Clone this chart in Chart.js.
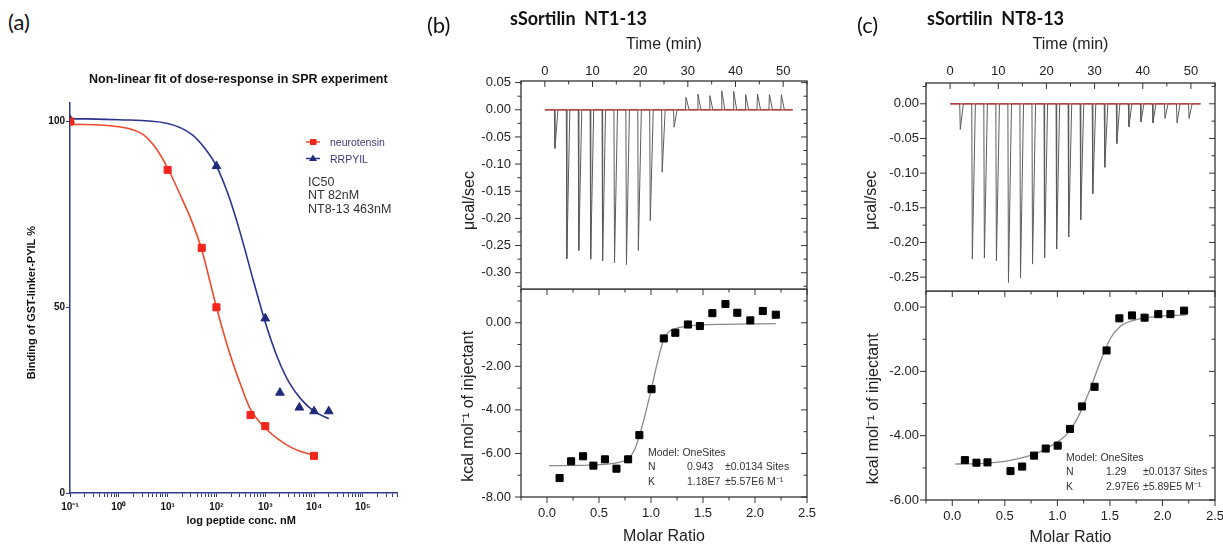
<!DOCTYPE html>
<html>
<head>
<meta charset="utf-8">
<script src="https://cdn.jsdelivr.net/npm/chart.js@4.4.1/dist/chart.umd.min.js"></script>
<style>
html,body{margin:0;padding:0;background:#fff;}
body{width:1223px;height:547px;position:relative;overflow:hidden;font-family:'Liberation Sans',Arial,sans-serif;}
canvas{position:absolute;}
.t{position:absolute;white-space:nowrap;line-height:1;transform:translateY(-50%);color:#222;}
.lbl{font-family:Lato,'Open Sans',sans-serif;font-size:22px;color:#111;}
.ttl{font-family:Lato,'Open Sans',sans-serif;font-weight:bold;font-size:18px;color:#111;}
.ann{font-size:10.5px;color:#333;}
.leg{font-size:10.5px;color:#3b3b78;}
.ic{font-size:12.5px;color:#333;}
</style>
</head>
<body>
<canvas id="ca" width="410" height="487" style="left:0px;top:60px"></canvas>
<canvas id="cbt" width="385" height="260" style="left:440px;top:30px"></canvas>
<canvas id="cbb" width="385" height="258" style="left:440px;top:289px"></canvas>
<canvas id="cct" width="363" height="262" style="left:860px;top:30px"></canvas>
<canvas id="ccb" width="363" height="256" style="left:860px;top:291px"></canvas>

<!-- panel (a) texts -->
<div class="t lbl" style="left:8px;top:22px">(a)</div>
<div class="t" style="left:89px;top:79px;font-size:12.5px;font-weight:bold;color:#111">Non-linear fit of dose-response in SPR experiment</div>
<div class="t leg" style="left:330px;top:142px">neurotensin</div>
<div class="t leg" style="left:330px;top:158.5px">RRPYIL</div>
<div class="t ic" style="left:308px;top:181.5px">IC50</div>
<div class="t ic" style="left:308px;top:195px">NT 82nM</div>
<div class="t ic" style="left:308px;top:209px">NT8-13 463nM</div>

<!-- panel (b) texts -->
<div class="t lbl" style="left:427px;top:25px">(b)</div>
<div class="t ttl" style="left:510px;top:18px">sSortilin&nbsp;&nbsp;NT1-13</div>
<div class="t ann" style="left:648px;top:452px">Model: OneSites</div>
<div class="t ann" style="left:648px;top:466px">N</div>
<div class="t ann" style="left:687px;top:466px">0.943</div>
<div class="t ann" style="left:725px;top:466px">±0.0134 Sites</div>
<div class="t ann" style="left:648px;top:481px">K</div>
<div class="t ann" style="left:687px;top:481px">1.18E7</div>
<div class="t ann" style="left:725px;top:481px">±5.57E6 M⁻¹</div>

<!-- panel (c) texts -->
<div class="t lbl" style="left:857px;top:25px">(c)</div>
<div class="t ttl" style="left:927px;top:18px">sSortilin&nbsp;&nbsp;NT8-13</div>
<div class="t ann" style="left:1066px;top:457px">Model: OneSites</div>
<div class="t ann" style="left:1066px;top:471px">N</div>
<div class="t ann" style="left:1106px;top:471px">1.29</div>
<div class="t ann" style="left:1143px;top:471px">±0.0137 Sites</div>
<div class="t ann" style="left:1066px;top:485.5px">K</div>
<div class="t ann" style="left:1106px;top:485.5px">2.97E6</div>
<div class="t ann" style="left:1143px;top:485.5px">±5.89E5 M⁻¹</div>

<script>
// ---------------- DATA ----------------
// Panel (a): SPR dose-response
const ntConc = [0.1, 10, 50, 100, 500, 1000, 10000];
const ntBinding = [100, 87, 66, 50, 21, 18, 10];
const rrConc = [0.1, 100, 1000, 2000, 5000, 10000, 20000];
const rrBinding = [100.5, 88, 47, 27, 23, 22, 22];
const ntFitConc = [0.1, 1, 3.16, 5.62, 10, 17.8, 31.6, 50, 100, 178, 316, 500, 1000, 3162, 10000];
const ntFitBinding = [99.3, 98.6, 96.5, 93, 87.5, 80.5, 73, 65.5, 50, 38.5, 29, 22.5, 17.5, 12.5, 10];
const rrFitConc = [0.1, 1, 10, 31.6, 56.2, 100, 178, 316, 562, 1000, 1778, 3162, 5623, 10000, 20000];
const rrFitBinding = [100.8, 100.5, 99.5, 96.5, 93, 88, 80, 69.5, 57.5, 46, 36.5, 29.5, 25, 22, 20];
const logTickLabels = ['10⁻¹', '10⁰', '10¹', '10²', '10³', '10⁴', '10⁵'];
const bindingTicks = [0, 50, 100];

// Panel (b) / (c): ITC raw thermograms
const injectionTimes = [2, 4.5, 7, 9.5, 12, 14.5, 17, 19.5, 22, 24.5, 27, 29.5, 32, 34.5, 37, 39.5, 42, 44.5, 47, 49.5];
const heatRateB = [-0.071, -0.274, -0.259, -0.275, -0.278, -0.282, -0.285, -0.259, -0.204, -0.115, -0.032,
                   0.023, 0.029, 0.026, 0.035, 0.034, 0.028, 0.029, 0.028, 0.028];
const heatRateC = [-0.037, -0.224, -0.2225, -0.2264, -0.2577, -0.2514, -0.2312, -0.2225, -0.2095, -0.1922, -0.1671,
                   -0.1296, -0.0915, -0.0573, -0.0332, -0.026, -0.0275, -0.0212, -0.0275, -0.0212];
const traceSpan = [0, 52];
const baselineTime = [0, 52];
const baselineRate = [0, 0];

// Panel (b) integrated heats
const molarRatioB = [0.121, 0.232, 0.347, 0.446, 0.557, 0.668, 0.78, 0.888, 1.005, 1.123, 1.234, 1.355, 1.47, 1.59, 1.716, 1.83, 1.955, 2.075, 2.2];
const heatB = [-7.13, -6.36, -6.13, -6.56, -6.27, -6.70, -6.27, -5.16, -3.05, -0.72, -0.46, -0.08, -0.15, 0.44, 0.86, 0.46, 0.11, 0.54, 0.37];
const fitRatioB = [0.02, 0.4, 0.6, 0.7, 0.78, 0.84, 0.89, 0.95, 1.005, 1.06, 1.12, 1.17, 1.25, 1.4, 1.7, 2.2];
const fitHeatB = [-6.56, -6.54, -6.48, -6.4, -6.25, -5.85, -5.16, -4.1, -3.0, -1.85, -0.8, -0.42, -0.25, -0.13, -0.07, -0.04];

// Panel (c) integrated heats
const molarRatioC = [0.12, 0.23, 0.335, 0.554, 0.665, 0.778, 0.889, 1.003, 1.12, 1.234, 1.354, 1.468, 1.59, 1.71, 1.83, 1.96, 2.076, 2.206];
const heatC = [-4.76, -4.84, -4.83, -5.10, -4.96, -4.62, -4.40, -4.31, -3.79, -3.09, -2.48, -1.35, -0.35, -0.26, -0.33, -0.22, -0.22, -0.11];
const fitRatioC = [0.03, 0.3, 0.5, 0.65, 0.8, 0.95, 1.1, 1.2, 1.3, 1.4, 1.5, 1.6, 1.72, 1.9, 2.22];
const fitHeatC = [-4.88, -4.86, -4.8, -4.7, -4.55, -4.3, -3.92, -3.4, -2.65, -1.78, -1.0, -0.6, -0.42, -0.31, -0.24];

// ---------------- HELPERS ----------------
Chart.defaults.font.family = "'Liberation Sans', Arial, sans-serif";
const RED = '#f2261c', RED_LINE = '#f04a2c', NAVY = '#1f2a7c', NAVY_LINE = '#2b348f', AXIS = '#2e3a8c';
const zip = (xs, ys) => xs.map((x, i) => ({x: x, y: ys[i]}));
const isMult = (v, s) => Math.abs(v / s - Math.round(v / s)) < 1e-6;
const SPIKE_RISE = 0.12, SPIKE_WIDTH = 0.75;
function buildTrace(times, peaks, span) {
  const pts = [{x: span[0], y: 0}];
  times.forEach((t, i) => { pts.push({x: t, y: 0}, {x: t + SPIKE_RISE, y: peaks[i]}, {x: t + SPIKE_WIDTH, y: 0}); });
  pts.push({x: span[1], y: 0});
  return pts;
}
const logTickValues = [];
for (let e = -1; e <= 5; e++) for (let k = 1; k <= 9; k++) { const v = k * Math.pow(10, e); if (v <= 5e5) logTickValues.push(v); }

function baseOpts(pad) {
  return {responsive: false, animation: false, events: [], layout: {padding: pad, autoPadding: false},
    plugins: {legend: {display: false}, tooltip: {enabled: false}}};
}

// frame + Origin-style ticks
const frameTicks = {
  id: 'frameTicks',
  afterDraw(chart, args, opts) {
    const ctx = chart.ctx, a = chart.chartArea;
    ctx.save();
    ctx.strokeStyle = '#333'; ctx.lineWidth = 1.3;
    ctx.strokeRect(a.left, a.top, a.right - a.left, a.bottom - a.top);
    ctx.lineWidth = 1;
    (opts.sides || []).forEach(sd => {
      const s = chart.scales[sd.scale];
      s.ticks.forEach(t => {
        const p = s.getPixelForValue(t.value);
        const len = (t.label !== '' ? 6 : 3.5) * sd.dir;
        ctx.beginPath();
        if (sd.edge === 'top') { ctx.moveTo(p, a.top); ctx.lineTo(p, a.top + len); }
        else if (sd.edge === 'bottom') { ctx.moveTo(p, a.bottom); ctx.lineTo(p, a.bottom - len); }
        else if (sd.edge === 'left') { ctx.moveTo(a.left, p); ctx.lineTo(a.left + len, p); }
        else { ctx.moveTo(a.right, p); ctx.lineTo(a.right - len, p); }
        ctx.stroke();
      });
    });
    ctx.restore();
  }
};

// legend markers for panel (a)
const aLegend = {
  id: 'aLegend',
  afterDraw(chart) {
    const ctx = chart.ctx;
    const items = [{y: 82, fill: RED, line: RED_LINE, style: 'rect'}, {y: 98.5, fill: NAVY, line: NAVY_LINE, style: 'tri'}];
    items.forEach(it => {
      ctx.save();
      ctx.strokeStyle = it.line; ctx.lineWidth = 1.5;
      ctx.beginPath(); ctx.moveTo(306, it.y); ctx.lineTo(320, it.y); ctx.stroke();
      ctx.fillStyle = it.fill;
      ctx.beginPath();
      if (it.style === 'rect') ctx.rect(310, it.y - 3, 6.5, 6);
      else { ctx.moveTo(313, it.y - 4); ctx.lineTo(317, it.y + 2.5); ctx.lineTo(309, it.y + 2.5); ctx.closePath(); }
      ctx.fill();
      ctx.restore();
    });
  }
};

function itcScale(o) {
  const horiz = (o.pos === 'top' || o.pos === 'bottom');
  return {
    type: 'linear', position: o.pos, min: o.min, max: o.max,
    afterBuildTicks(s) {
      const t = [];
      const k0 = Math.ceil(o.min / o.step - 1e-9), k1 = Math.floor(o.max / o.step + 1e-9);
      for (let k = k0; k <= k1; k++) t.push({value: Math.round(k * o.step * 1e6) / 1e6});
      s.ticks = t;
    },
    afterFit(s) {
      if (horiz) s.height = o.size; else s.width = o.size;
      s.paddingTop = 0; s.paddingBottom = 0; s.paddingLeft = 0; s.paddingRight = 0;
    },
    grid: {display: false, drawTicks: false}, border: {display: false},
    ticks: {autoSkip: false, maxRotation: 0, minRotation: 0,
      padding: o.pad, color: '#222', font: {size: 13},
      callback: (v) => isMult(v, o.major) ? Number(v).toFixed(o.dec) : ''},
    title: {display: true, text: o.title, color: '#222', font: {size: 16}, padding: o.tpad}
  };
}

// ---------------- PANEL (a) ----------------
new Chart(document.getElementById('ca'), {
  type: 'scatter',
  data: {datasets: [
    {data: zip(ntConc, ntBinding), pointStyle: 'rect', pointRadius: 5, backgroundColor: RED, borderColor: RED, borderWidth: 1, order: 0},
    {data: zip(rrConc, rrBinding), pointStyle: 'triangle', pointRadius: 5, backgroundColor: NAVY, borderColor: NAVY, borderWidth: 1, order: 0},
    {data: zip(ntFitConc, ntFitBinding), showLine: true, pointRadius: 0, borderColor: RED_LINE, borderWidth: 1.6, cubicInterpolationMode: 'monotone', order: 1},
    {data: zip(rrFitConc, rrFitBinding), showLine: true, pointRadius: 0, borderColor: NAVY_LINE, borderWidth: 1.6, cubicInterpolationMode: 'monotone', order: 1}
  ]},
  options: Object.assign(baseOpts({left: 0, top: 43, right: 13, bottom: 0}), {
    scales: {
      x: {type: 'logarithmic', min: 0.1, max: 5e5,
        afterFit(s) { s.height = 54; },
        afterBuildTicks(s) { s.ticks = logTickValues.map(v => ({value: v})); },
        ticks: {autoSkip: false, maxRotation: 0, minRotation: 0, padding: 4, color: '#111', font: {size: 10, weight: 'bold'},
          callback: (v) => { const e = Math.log10(v); return Math.abs(e - Math.round(e)) < 1e-9 ? logTickLabels[Math.round(e) + 1] : ''; }},
        grid: {display: true, drawOnChartArea: false, drawTicks: true, tickLength: 4, color: AXIS},
        border: {display: true, color: AXIS, width: 1.5},
        title: {display: true, text: '\u00a0\u00a0\u00a0\u00a0\u00a0log peptide conc. nM', color: '#111', font: {size: 11, weight: 'bold'}, padding: {top: 0, bottom: 19.4}}},
      y: {type: 'linear', min: 0, max: 105,
        afterFit(s) { s.width = 70; },
        afterBuildTicks(s) { s.ticks = bindingTicks.map(v => ({value: v})); },
        ticks: {padding: 1, color: '#111', font: {size: 10, weight: 'bold'}},
        grid: {display: true, drawOnChartArea: false, drawTicks: true, tickLength: 4, color: AXIS},
        border: {display: true, color: AXIS, width: 1.5},
        title: {display: true, text: 'Binding of GST-linker-PYIL %\u00a0\u00a0\u00a0', color: '#111', font: {size: 11, weight: 'bold'}, padding: {top: 25.4, bottom: 0}}}
    }
  }),
  plugins: [aLegend]
});

// ---------------- PANEL (b) top ----------------
new Chart(document.getElementById('cbt'), {
  type: 'scatter',
  data: {datasets: [
    {data: zip(baselineTime, baselineRate), showLine: true, pointRadius: 0, borderColor: '#b8302f', borderWidth: 1.2, order: 0},
    {data: buildTrace(injectionTimes, heatRateB, traceSpan), showLine: true, pointRadius: 0, borderColor: '#5c5c5c', borderWidth: 1, tension: 0, order: 1}
  ]},
  options: Object.assign(baseOpts({left: 0, top: 0, right: 18, bottom: 1}), {
    scales: {
      x: itcScale({pos: 'top', min: -5, max: 55, size: 51, step: 5, major: 10, dec: 0, pad: 2, title: 'Time (min)', tpad: {top: 5.4, bottom: 0}}),
      y: itcScale({pos: 'left', min: -0.33, max: 0.053, size: 81, step: 0.025, major: 0.05, dec: 2, pad: 10,
        title: 'μcal/sec\u00a0\u00a0\u00a0\u00a0\u00a0\u00a0\u00a0', tpad: {top: 20.4, bottom: 0}})
    },
    plugins: {legend: {display: false}, tooltip: {enabled: false},
      frameTicks: {sides: [{scale: 'x', edge: 'top', dir: 1}, {scale: 'y', edge: 'left', dir: -1}, {scale: 'y', edge: 'right', dir: 1}]}}
  }),
  plugins: [frameTicks]
});

// ---------------- PANEL (b) bottom ----------------
new Chart(document.getElementById('cbb'), {
  type: 'scatter',
  data: {datasets: [
    {data: zip(molarRatioB, heatB), pointStyle: 'rect', pointRadius: 5, backgroundColor: '#000', borderColor: '#000', borderWidth: 1, order: 0},
    {data: zip(fitRatioB, fitHeatB), showLine: true, pointRadius: 0, borderColor: '#8a8a8a', borderWidth: 1.3, cubicInterpolationMode: 'monotone', order: 1}
  ]},
  options: Object.assign(baseOpts({left: 0, top: 0, right: 18, bottom: 0}), {
    scales: {
      x: itcScale({pos: 'bottom', min: -0.25, max: 2.5, size: 50, step: 0.25, major: 0.5, dec: 1, pad: 9, title: 'Molar Ratio', tpad: {top: 0, bottom: 0.4}}),
      y: itcScale({pos: 'left', min: -8, max: 1.55, size: 81, step: 1, major: 2, dec: 2, pad: 10,
        title: 'kcal mol⁻¹ of injectant\u00a0\u00a0\u00a0\u00a0\u00a0\u00a0', tpad: {top: 18.9, bottom: 0}})
    },
    plugins: {legend: {display: false}, tooltip: {enabled: false},
      frameTicks: {sides: [{scale: 'x', edge: 'top', dir: 1}, {scale: 'x', edge: 'bottom', dir: -1}, {scale: 'y', edge: 'left', dir: -1}, {scale: 'y', edge: 'right', dir: 1}]}}
  }),
  plugins: [frameTicks]
});

// ---------------- PANEL (c) top ----------------
new Chart(document.getElementById('cct'), {
  type: 'scatter',
  data: {datasets: [
    {data: zip(baselineTime, baselineRate), showLine: true, pointRadius: 0, borderColor: '#b8302f', borderWidth: 1.2, order: 0},
    {data: buildTrace(injectionTimes, heatRateC, traceSpan), showLine: true, pointRadius: 0, borderColor: '#5c5c5c', borderWidth: 1, tension: 0, order: 1}
  ]},
  options: Object.assign(baseOpts({left: 0, top: 0, right: 8, bottom: 1}), {
    scales: {
      x: itcScale({pos: 'top', min: -5, max: 55, size: 53, step: 5, major: 10, dec: 0, pad: 4, title: 'Time (min)', tpad: {top: 5.4, bottom: 0}}),
      y: itcScale({pos: 'left', min: -0.27, max: 0.03, size: 66, step: 0.025, major: 0.05, dec: 2, pad: 7,
        title: 'μcal/sec\u00a0\u00a0\u00a0\u00a0\u00a0\u00a0', tpad: {top: 2.1, bottom: 0}})
    },
    plugins: {legend: {display: false}, tooltip: {enabled: false},
      frameTicks: {sides: [{scale: 'x', edge: 'top', dir: 1}, {scale: 'y', edge: 'left', dir: -1}, {scale: 'y', edge: 'right', dir: 1}]}}
  }),
  plugins: [frameTicks]
});

// ---------------- PANEL (c) bottom ----------------
new Chart(document.getElementById('ccb'), {
  type: 'scatter',
  data: {datasets: [
    {data: zip(molarRatioC, heatC), pointStyle: 'rect', pointRadius: 5, backgroundColor: '#000', borderColor: '#000', borderWidth: 1, order: 0},
    {data: zip(fitRatioC, fitHeatC), showLine: true, pointRadius: 0, borderColor: '#8a8a8a', borderWidth: 1.3, cubicInterpolationMode: 'monotone', order: 1}
  ]},
  options: Object.assign(baseOpts({left: 0, top: 0, right: 8, bottom: 0}), {
    scales: {
      x: itcScale({pos: 'bottom', min: -0.25, max: 2.5, size: 47, step: 0.25, major: 0.5, dec: 1, pad: 9, title: 'Molar Ratio', tpad: {top: 0, bottom: 0}}),
      y: itcScale({pos: 'left', min: -6, max: 0.5, size: 66, step: 1, major: 2, dec: 2, pad: 7,
        title: 'kcal mol⁻¹ of injectant\u00a0\u00a0\u00a0\u00a0\u00a0\u00a0', tpad: {top: 4.4, bottom: 0}})
    },
    plugins: {legend: {display: false}, tooltip: {enabled: false},
      frameTicks: {sides: [{scale: 'x', edge: 'top', dir: 1}, {scale: 'x', edge: 'bottom', dir: -1}, {scale: 'y', edge: 'left', dir: -1}, {scale: 'y', edge: 'right', dir: 1}]}}
  }),
  plugins: [frameTicks]
});
</script>
</body>
</html>
